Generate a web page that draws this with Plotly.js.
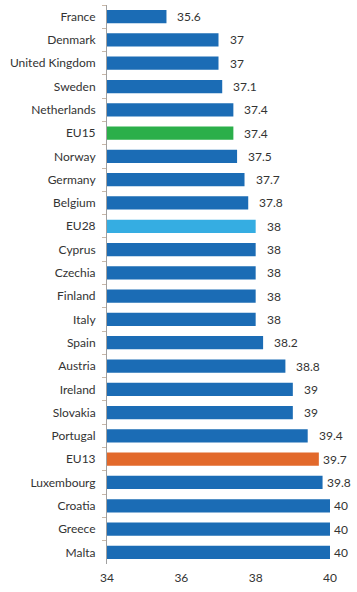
<!DOCTYPE html>
<html>
<head>
<meta charset="utf-8">
<script src="https://cdn.plot.ly/plotly-3.0.1.min.js"></script>
<style>html,body{margin:0;padding:0;background:#fff;}#chart{width:357px;height:592px;}</style>
</head>
<body>
<div id="chart"></div>
<script>
const countries = ["France","Denmark","United Kingdom","Sweden","Netherlands","EU15","Norway","Germany","Belgium","EU28","Cyprus","Czechia","Finland","Italy","Spain","Austria","Ireland","Slovakia","Portugal","EU13","Luxembourg","Croatia","Greece","Malta"];
const hours = [35.6,37,37,37.1,37.4,37.4,37.5,37.7,37.8,38,38,38,38,38,38.2,38.8,39,39,39.4,39.7,39.8,40,40,40];
const labels = ["35.6","37","37","37.1","37.4","37.4","37.5","37.7","37.8","38","38","38","38","38","38.2","38.8","39","39","39.4","39.7","39.8","40","40","40"];
const xTicks = [34,36,38,40];

const colorMain = "#1b6cb5";
const highlight = {"EU15":"#2baf4a","EU28":"#35ade2","EU13":"#e2692b"};
const colors = countries.map(c => highlight[c] || colorMain);

const font = "Lato, 'Open Sans', sans-serif";
const annotations = countries.map((c,i) => ({
  x: hours[i], y: c, xref: "x", yref: "y",
  text: labels[i], showarrow: false, xanchor: "left",
  xshift: hours[i] >= 39.7 ? 2 : 9,
  font: {family: font, size: 12, color: "#333"}
}));

const trace = {
  type: "bar", orientation: "h",
  x: hours, y: countries,
  marker: {color: colors},
  hoverinfo: "none"
};

const layout = {
  width: 357, height: 592,
  margin: {l: 107, r: 27, t: 5, b: 28},
  paper_bgcolor: "#fff", plot_bgcolor: "#fff",
  bargap: 0.43,
  showlegend: false,
  font: {family: font, size: 12, color: "#333"},
  xaxis: {
    range: [34, 40], tickvals: xTicks, ticktext: xTicks.map(String),
    showgrid: false, zeroline: false, showline: false, ticks: "",
    ticklabelstandoff: 5,
    tickfont: {family: font, size: 12, color: "#333"}
  },
  yaxis: {
    type: "category", autorange: "reversed",
    showgrid: false, zeroline: false,
    showline: true, linecolor: "#a0a0a0", linewidth: 1,
    ticks: "outside", tickson: "boundaries", ticklen: 4, tickcolor: "#c9b8a8",
    ticklabelstandoff: 8,
    tickfont: {family: font, size: 12, color: "#333"}
  },
  annotations: annotations
};

Plotly.newPlot("chart", [trace], layout, {displayModeBar: false, staticPlot: true});
</script>
</body>
</html>
